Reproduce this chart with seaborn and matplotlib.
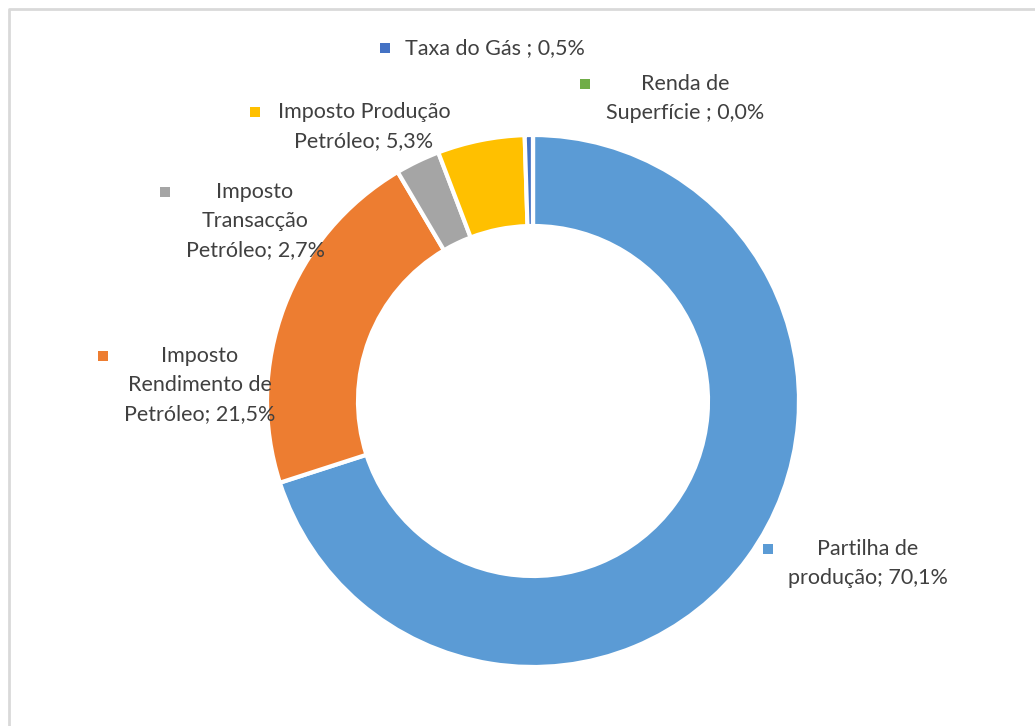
import matplotlib
matplotlib.use("Agg")
import matplotlib.pyplot as plt
import seaborn as sns

# Receitas do petróleo por tipo (%)
categorias = ["Partilha de\nprodução", "Imposto\nRendimento de\nPetróleo",
              "Imposto\nTransacção\nPetróleo", "Imposto Produção\nPetróleo",
              "Taxa do Gás ", "Renda de\nSuperfície "]
valores = [70.1, 21.5, 2.7, 5.3, 0.5, 0.0]
cores = ["#5B9BD5", "#ED7D31", "#A5A5A5", "#FFC000", "#4472C4", "#70AD47"]

# where Excel put each data label (pixels from top-left): marker x, text centre x, first line y
pos_rotulos = [(768, 868, 549), (103, 200, 356), (165, 255, 192),
               (255, 364, 112), (385, 405, 48), (585, 685, 84)]

sns.set_theme(style="white")
plt.rcParams['font.family'] = ['Lato', 'DejaVu Sans']

W, H = 1035, 726
fig = plt.figure(figsize=(W / 100, H / 100), dpi=100)
ax = fig.add_axes([0, 0, 1, 1])

ax.pie(valores, colors=cores, startangle=90, counterclock=False,
       center=(533, H - 401), radius=266, frame=True,
       wedgeprops=dict(width=91, edgecolor="white", linewidth=3))
ax.set_xlim(0, W)
ax.set_ylim(0, H)
ax.set_aspect("equal")
ax.axis("off")

# light grey chart frame (only top and left visible)
ax.plot([9, 9, W + 5], [-5, H - 9, H - 9], color="#D9D9D9", lw=2, clip_on=False)

lh = 29
for nome, v, cor, (mx, tx, ty) in zip(categorias, valores, cores, pos_rotulos):
    texto = f"{nome}; {v:.1f}%".replace(".", ",")
    linhas = texto.split("\n")
    ax.scatter([mx], [H - ty], marker="s", s=45, color=cor, linewidths=0)
    if len(linhas) == 1:
        ax.text(tx, H - ty, texto, ha="left", va="center", fontsize=15.5, color="#404040")
    else:
        for i, l in enumerate(linhas):
            ax.text(tx, H - ty - i * lh, l, ha="center", va="center",
                    fontsize=15.5, color="#404040")

fig.savefig("out.png", dpi=100)
